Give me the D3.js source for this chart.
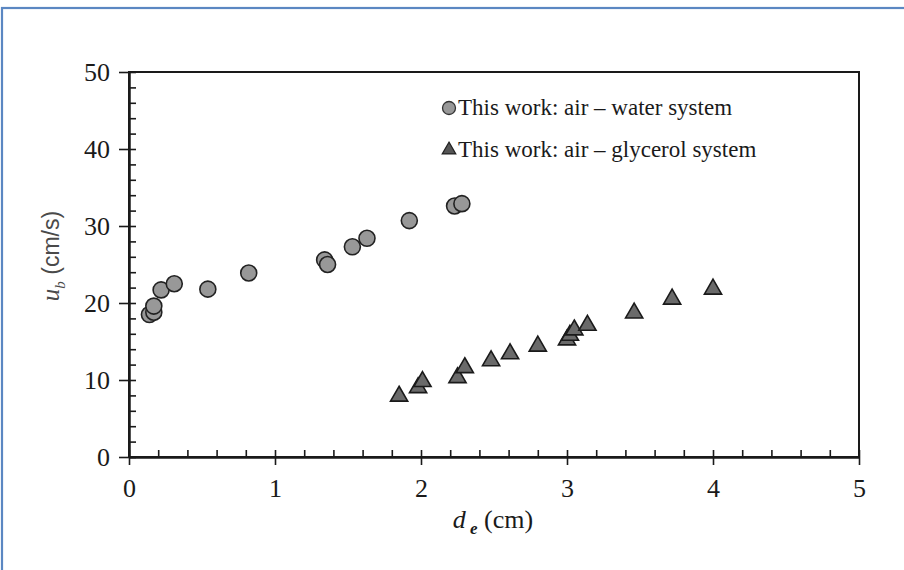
<!DOCTYPE html>
<html>
<head>
<meta charset="utf-8">
<script src="https://cdn.jsdelivr.net/npm/d3@7"></script>
<style>
  html, body { margin: 0; padding: 0; background: #fff; }
  svg { display: block; }
</style>
</head>
<body>
<svg id="chart" width="904" height="570"></svg>
<script>
// Bubble rise velocity u_b versus equivalent diameter d_e
const waterDe = [0.14, 0.17, 0.17, 0.22, 0.31, 0.54, 0.82, 1.34, 1.36, 1.53, 1.63, 1.92, 2.23, 2.28];
const waterUb = [18.5, 18.8, 19.6, 21.7, 22.5, 21.8, 23.9, 25.6, 25.0, 27.3, 28.4, 30.7, 32.6, 32.9];

const glyDe = [1.85, 1.98, 2.01, 2.25, 2.30, 2.48, 2.61, 2.80, 3.00, 3.02, 3.05, 3.14, 3.46, 3.72, 4.00];
const glyUb = [7.9, 9.0, 9.8, 10.3, 11.6, 12.5, 13.4, 14.4, 15.2, 15.8, 16.5, 17.1, 18.7, 20.5, 21.8];

const xTicks = [0, 1, 2, 3, 4, 5];
const yTicks = [0, 10, 20, 30, 40, 50];
const legendLabels = ["This work: air \u2013 water system", "This work: air \u2013 glycerol system"];

const svg = d3.select("#chart");
const W = 904, H = 570;
const plot = { left: 129, right: 859, top: 72, bottom: 457 };

// page frame
svg.append("rect")
  .attr("x", 2).attr("y", 8)
  .attr("width", W + 20).attr("height", H + 20)
  .attr("fill", "none").attr("stroke", "#5b87c2").attr("stroke-width", 2.2);

const x = d3.scaleLinear().domain([0, 5]).range([plot.left, plot.right]);
const y = d3.scaleLinear().domain([0, 50]).range([plot.bottom, plot.top]);

const serif = "'Liberation Serif', 'Times New Roman', serif";
const axisColor = "#1a1a1a";

// plot box
svg.append("rect")
  .attr("x", plot.left).attr("y", plot.top)
  .attr("width", plot.right - plot.left).attr("height", plot.bottom - plot.top)
  .attr("fill", "none").attr("stroke", axisColor).attr("stroke-width", 2);

// minor (inward) ticks
const xMinor = d3.range(0, 5.0001, 0.2);
const yMinor = d3.range(0, 50.0001, 2);

const xIn = svg.append("g").attr("transform", `translate(0,${plot.bottom})`)
  .call(d3.axisBottom(x).tickValues(xMinor).tickSizeInner(-7).tickSizeOuter(0).tickFormat(""));
const yIn = svg.append("g").attr("transform", `translate(${plot.left},0)`)
  .call(d3.axisLeft(y).tickValues(yMinor).tickSizeInner(-7).tickSizeOuter(0).tickFormat(""));

// major (outward, labelled) ticks
const xAx = svg.append("g").attr("transform", `translate(0,${plot.bottom})`)
  .call(d3.axisBottom(x).tickValues(xTicks).tickSizeInner(8).tickSizeOuter(0).tickPadding(14).tickFormat(d3.format("d")));
const yAx = svg.append("g").attr("transform", `translate(${plot.left},0)`)
  .call(d3.axisLeft(y).tickValues(yTicks).tickSizeInner(10).tickSizeOuter(0).tickPadding(9).tickFormat(d3.format("d")));

[xIn, yIn, xAx, yAx].forEach(g => {
  g.select(".domain").attr("stroke", axisColor).attr("stroke-width", 2);
  g.selectAll(".tick line").attr("stroke", axisColor).attr("stroke-width", 1.6);
  g.selectAll(".tick text")
    .attr("font-family", serif).attr("font-size", 26).attr("fill", "#1a1a1a");
});

// axis titles
const xt = svg.append("text")
  .attr("x", 493).attr("y", 528)
  .attr("text-anchor", "middle")
  .attr("font-family", serif).attr("font-size", 26).attr("fill", "#1a1a1a");
xt.append("tspan").attr("font-style", "italic").text("d");
xt.append("tspan").attr("font-style", "italic").attr("font-weight", "bold")
  .attr("font-size", 17).attr("dy", 6).text(" e");
xt.append("tspan").attr("dy", -6).text(" (cm)");

const yt = svg.append("text")
  .attr("transform", "translate(59,256) rotate(-90)")
  .attr("text-anchor", "middle")
  .attr("font-family", "'Liberation Sans', Arial, sans-serif")
  .attr("font-size", 23).attr("fill", "#4a4a4a");
yt.append("tspan").attr("font-family", serif).attr("font-style", "italic").attr("font-size", 25).text("u");
yt.append("tspan").attr("font-family", serif).attr("font-style", "italic")
  .attr("font-size", 15).attr("dy", 6).text("b");
yt.append("tspan").attr("dy", -6).text(" (cm/s)");

// data markers
const triangle = d3.symbol().type(d3.symbolTriangle).size(128);

svg.append("g").selectAll("path")
  .data(d3.zip(glyDe, glyUb))
  .join("path")
  .attr("d", triangle)
  .attr("transform", d => `translate(${x(d[0])},${y(d[1])})`)
  .attr("fill", "#6a6a6a").attr("stroke", "#1a1a1a").attr("stroke-width", 1.6);

svg.append("g").selectAll("circle")
  .data(d3.zip(waterDe, waterUb))
  .join("circle")
  .attr("cx", d => x(d[0])).attr("cy", d => y(d[1]))
  .attr("r", 8)
  .attr("fill", "#989898").attr("stroke", "#222").attr("stroke-width", 1.6);

// legend
const lg = svg.append("g");
lg.append("circle").attr("cx", 449).attr("cy", 108).attr("r", 6.5)
  .attr("fill", "#989898").attr("stroke", "#333").attr("stroke-width", 1.3);
lg.append("path").attr("d", d3.symbol().type(d3.symbolTriangle).size(80))
  .attr("transform", "translate(449,150)")
  .attr("fill", "#555").attr("stroke", "#222").attr("stroke-width", 1.2);
lg.selectAll("text").data(legendLabels).join("text")
  .attr("x", 458).attr("y", (d, i) => 115 + i * 42)
  .attr("font-family", serif).attr("font-size", 23).attr("fill", "#1a1a1a")
  .text(d => d);
</script>
</body>
</html>
